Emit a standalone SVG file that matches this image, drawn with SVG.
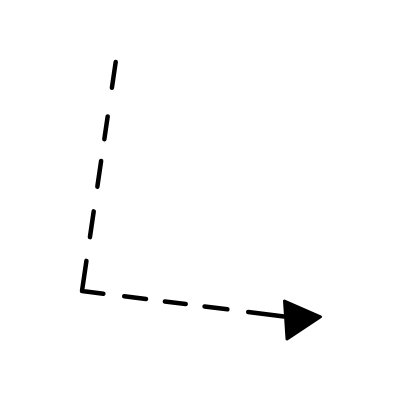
<svg xmlns="http://www.w3.org/2000/svg" width="400" height="400" viewBox="0 0 400 400">
<style>
.conn{fill:none;stroke:#000;stroke-width:4.5;stroke-linecap:round;stroke-linejoin:round}
.head{fill:#000;stroke:#000;stroke-width:3;stroke-linejoin:round}
</style>
<rect width="400" height="400" fill="#fff"/>
<g id="connectors">
<path class="conn" d="M115.7,62 L82,291 L284,316.5" stroke-dasharray="26 29 23 22 26 25 26 24 52 21 22 19 21 19 23 21 60"/>
<polygon class="head" points="284.5,301 320.5,316.8 287,339"/>
</g>
</svg>
